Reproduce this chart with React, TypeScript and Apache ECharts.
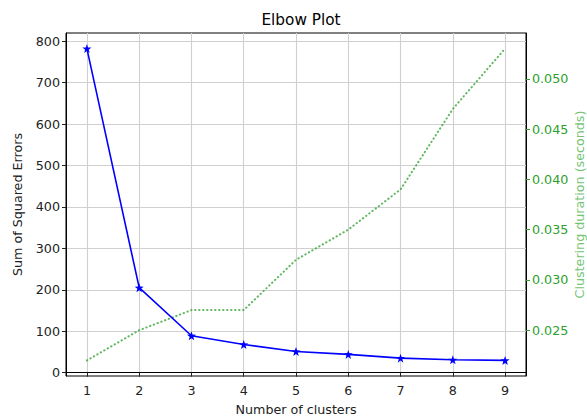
import React, { useEffect, useRef } from "react";
import * as echarts from "echarts";

const clusters = [1, 2, 3, 4, 5, 6, 7, 8, 9];
const sse = [782, 205, 89, 68, 51, 44, 35, 31, 29.5];
const duration = [0.022, 0.025, 0.027, 0.027, 0.032, 0.035, 0.039, 0.047, 0.053];
const leftTicks = [0, 100, 200, 300, 400, 500, 600, 700, 800];
const rightTicks = [0.025, 0.03, 0.035, 0.04, 0.045, 0.05];

const STAR =
  "path://M0,-10 L2.35,-3.24 L9.51,-3.09 L3.8,1.24 L5.88,8.09 L0,4 L-5.88,8.09 L-3.8,1.24 L-9.51,-3.09 L-2.35,-3.24 Z";

const FONT = "DejaVu Sans";
const GREEN = "#2ca02c";

export default function App() {
  const ref = useRef<HTMLDivElement>(null);
  useEffect(() => {
    if (!ref.current) return;
    const chart = echarts.init(ref.current, null, { renderer: "svg" });
    const tickLabel = { fontFamily: FONT, fontSize: 12.7, color: "#222" };
    chart.setOption({
      animation: false,
      backgroundColor: "#fff",
      textStyle: { fontFamily: FONT },
      title: {
        text: "Elbow Plot",
        left: 296,
        textAlign: "center",
        top: 7,
        textStyle: { fontFamily: FONT, fontSize: 15.3, fontWeight: "normal", color: "#000" },
      },
      grid: {
        left: 66,
        right: 61,
        top: 33,
        bottom: 42,
        outerBoundsMode: "none",
        containLabel: false,
        show: true,
        borderColor: "#000",
        borderWidth: 1,
        backgroundColor: "transparent",
      },
      xAxis: {
        type: "value",
        min: 0.6,
        max: 9.4,
        name: "Number of clusters",
        nameLocation: "middle",
        nameGap: 27,
        nameTextStyle: { fontFamily: FONT, fontSize: 12.7, color: "#222" },
        axisLine: { show: true, lineStyle: { color: "#000", width: 1 } },
        axisTick: { show: true, length: 4, customValues: clusters, lineStyle: { color: "#222" } },
        axisLabel: { ...tickLabel, margin: 8, customValues: clusters },
        splitLine: { show: true, lineStyle: { color: "#d0d0d0", width: 1.1 } },
      },
      yAxis: [
        {
          type: "value",
          min: -8.1,
          max: 819.6,
          position: "left",
          name: "Sum of Squared Errors",
          nameLocation: "middle",
          nameGap: 42,
          nameTextStyle: { fontFamily: FONT, fontSize: 12.7, color: "#222" },
          axisLine: { show: true, lineStyle: { color: "#000", width: 1 } },
          axisTick: { show: true, length: 4, customValues: leftTicks, lineStyle: { color: "#222" } },
          axisLabel: { ...tickLabel, margin: 6, customValues: leftTicks },
          splitLine: { show: true, lineStyle: { color: "#d0d0d0", width: 1.1 } },
        },
        {
          type: "value",
          min: 0.02045,
          max: 0.05455,
          position: "right",
          name: "Clustering duration (seconds)",
          nameLocation: "middle",
          nameGap: 47,
          nameMoveOverlap: false,
          nameTextStyle: { fontFamily: FONT, fontSize: 12.7, color: "#74c474" },
          axisLine: { show: true, lineStyle: { color: "#000", width: 1 } },
          axisTick: { show: true, length: 4, customValues: rightTicks, lineStyle: { color: GREEN } },
          axisLabel: {
            fontFamily: FONT,
            fontSize: 12.7,
            color: GREEN,
            margin: 6,
            customValues: rightTicks,
            formatter: (v: number) => v.toFixed(3),
          },
          splitLine: { show: false },
        },
      ],
      series: [
        {
          type: "line",
          yAxisIndex: 1,
          data: clusters.map((c, i) => [c, duration[i]]),
          symbol: "none",
          lineStyle: { color: "rgba(44,160,44,0.75)", width: 2, type: [0.4, 3.6], cap: "round" },
          z: 2,
        },
        {
          type: "line",
          yAxisIndex: 0,
          data: clusters.map((c, i) => [c, sse[i]]),
          symbol: STAR,
          symbolSize: 9,
          itemStyle: { color: "#0000ff" },
          lineStyle: { color: "#0000ff", width: 1.6 },
          z: 3,
        },
      ],
    });
    return () => chart.dispose();
  }, []);
  return (
    <div
      ref={ref}
      style={{ position: "fixed", left: 0, top: 0, width: 587, height: 418 }}
    />
  );
}
